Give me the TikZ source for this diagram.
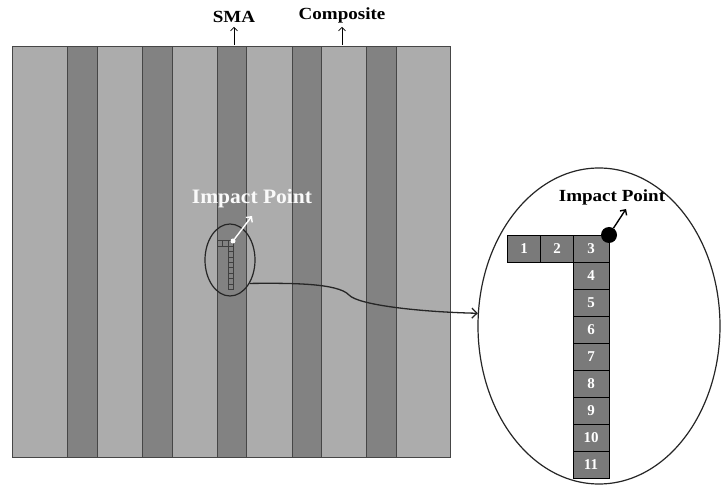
\documentclass[tikz,border=0pt]{standalone}
\usepackage{fontspec}
\setmainfont{Liberation Serif}
\newfontfamily\wideserif[FakeStretch=1.12]{Liberation Serif}
\newfontfamily\midserif[FakeStretch=1.05]{Liberation Serif}
\usetikzlibrary{shapes.geometric,arrows.meta}
\definecolor{lightstripe}{RGB}{172,172,172}
\definecolor{darkstripe}{RGB}{130,130,130}
\definecolor{cellgray}{RGB}{122,122,122}
\definecolor{edgegray}{RGB}{70,70,70}
\tikzset{
  toplbl/.style={font=\wideserif\bfseries\fontsize{17}{17}\selectfont, inner xsep=0pt, inner ysep=4pt, anchor=south},
  thinarrow/.style={line width=0.6pt, -{Straight Barb[length=3.5pt,width=7pt]}},
  bcell/.style={draw=black, line width=0.6pt, fill=cellgray, text=white, font=\bfseries\fontsize{15}{15}\selectfont, minimum height=27, inner sep=0pt},
  scell/.style={draw=black!75, line width=0.5pt},
  zoomring/.style={ellipse, draw=black!85, line width=1.2pt, inner sep=0pt},
}
\begin{document}
\begin{tikzpicture}[x=1pt,y=-1pt]
\useasboundingbox[fill=white] (0,0) rectangle (721,486);
% stripes
\foreach \a/\b/\c in {12/67/lightstripe,67/97/darkstripe,97/142/lightstripe,142/172/darkstripe,172/217/lightstripe,217/246/darkstripe,246/292/lightstripe,292/321/darkstripe,321/366/lightstripe,366/396/darkstripe,396/450/lightstripe}{
  \fill[\c] (\a,47) rectangle (\b,458);
}
\foreach \x in {67,97,142,172,217,246,292,321,366,396}{
  \draw[edgegray, line width=0.8pt] (\x,47) -- (\x,458);
}
\draw[edgegray, line width=1pt] (12,47) rectangle (450,458);
% top labels
\node[toplbl] (sma) at (234,27) {SMA};
\node[toplbl] (comp) at (342,27) {Composite};
\coordinate (smafoot) at (234,45);
\coordinate (compfoot) at (342,45);
\draw[thinarrow] (smafoot) -- (sma.south);
\draw[thinarrow] (compfoot) -- (comp.south);
% small ellipse and grid
\node[zoomring, minimum width=50, minimum height=72] (se) at (230,260) {};
\foreach \i in {0,1,2}{
  \draw[scell] ({217+\i*5.4},240.6) rectangle ({222.4+\i*5.4},246);
}
\foreach \j in {1,...,8}{
  \draw[scell] (227.8,{240.6+\j*5.4}) rectangle (233.2,{246+\j*5.4});
}
\node[circle, fill=white, inner sep=0pt, minimum size=5] (wdot) at (233,241) {};
\coordinate (wtip) at (252,216);
\draw[white, line width=1.4pt, -{Straight Barb[length=4pt,width=8pt]}] (wdot) -- (wtip);
\node[font=\midserif\bfseries\fontsize{20.5}{20.5}\selectfont, text=white!96!gray] (ipw) at (252,199) {Impact Point};
% big ellipse and cells
\node[zoomring, minimum width=242, minimum height=316] (be) at (599,326) {};
\node[bcell, minimum width=33] (b1) at (524,248.5) {1};
\node[bcell, minimum width=33] (b2) at (557,248.5) {2};
\node[bcell, minimum width=36] (b3) at (591,248.5) {3};
\foreach \k in {4,...,11}{
  \node[bcell, minimum width=36] (b\k) at (591,{248.5+27*(\k-3)}) {\k};
}
\node[circle, fill=black, inner sep=0pt, minimum size=16] (bdot) at (609,235) {};
\coordinate (btip) at (626,209);
\draw[black, line width=1.4pt, -{Straight Barb[length=4pt,width=8pt]}] (bdot) -- (btip);
\node[font=\wideserif\bfseries\fontsize{17}{17}\selectfont] (ipb) at (612,197) {Impact Point};
% connector
\draw[black!85, line width=1.3pt, -{Straight Barb[length=5pt,width=10pt]}] (se.-50) .. controls (290,283) and (338,283) .. (349,295) .. controls (358,305) and (420,312) .. (be.174);
\end{tikzpicture}
\end{document}
